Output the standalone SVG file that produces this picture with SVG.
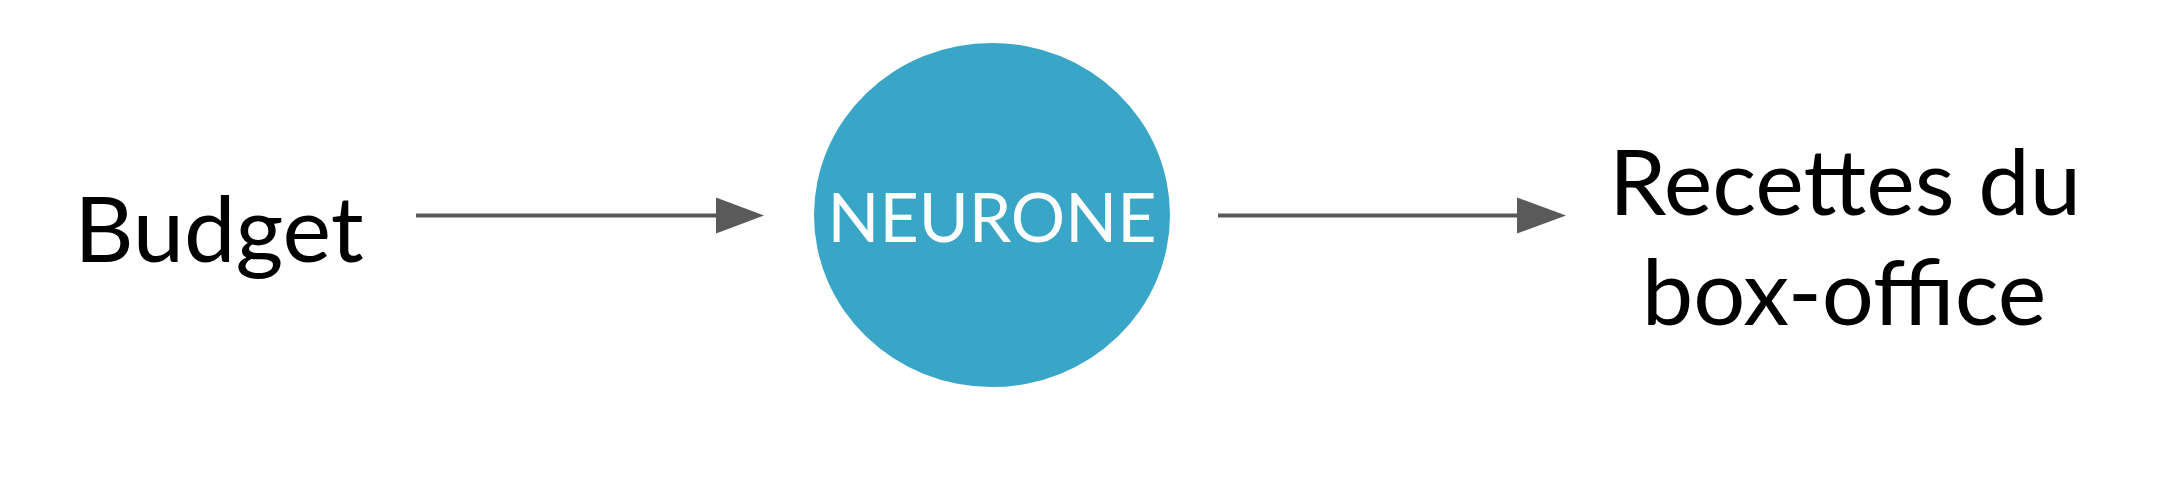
<svg xmlns="http://www.w3.org/2000/svg" width="2178" height="480" viewBox="0 0 2178 480">
<style>
.lbl{font-family:Lato,"Liberation Sans",sans-serif;font-size:92px;fill:#000;text-anchor:middle}
.nlbl{font-family:Lato,"Liberation Sans",sans-serif;font-size:68px;fill:#fff;text-anchor:middle}
.edge{stroke:#5a5a5a;stroke-width:4;fill:none}
.head{fill:#5a5a5a}
</style>
<rect width="2178" height="480" fill="#fff"/>
<g id="connectors">
<line class="edge" x1="416" y1="215.5" x2="720" y2="215.5"/>
<polygon class="head" points="716,197.5 764,215.5 716,233.5"/>
<line class="edge" x1="1218" y1="215.5" x2="1521" y2="215.5"/>
<polygon class="head" points="1517,197.5 1566,215.5 1517,233.5"/>
</g>
<g id="budget">
<text class="lbl" x="219" y="262">Budget</text>
</g>
<g id="neurone">
<ellipse cx="992" cy="215" rx="178" ry="172" fill="#39a6c7"/>
<text class="nlbl" x="992" y="242">NEURONE</text>
</g>
<g id="recettes">
<text class="lbl" x="1845" y="215">Recettes du</text>
<text class="lbl" x="1844" y="325">box-office</text>
</g>
</svg>
